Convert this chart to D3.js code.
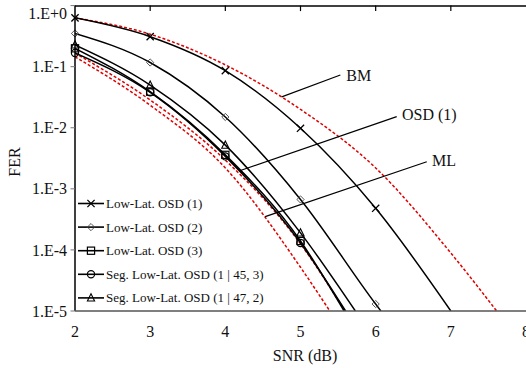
<!DOCTYPE html>
<html><head><meta charset="utf-8">
<script src="https://cdn.jsdelivr.net/npm/d3@7"></script>
<style>
body{margin:0;background:#fff;}
svg{display:block;font-family:"Liberation Serif","Times New Roman",serif;}
</style></head>
<body><svg id="c" width="526" height="368"></svg>
<script>
// ---------- data ----------
const xTicks = [2,3,4,5,6,7,8];
const yTicks = [1e0,1e-1,1e-2,1e-3,1e-4,1e-5];
const yTickLabels = ["1.E+0","1.E-1","1.E-2","1.E-3","1.E-4","1.E-5"];

const lowLat1_snr = [2,3,4,5,6,7];
const lowLat1_fer = [0.63,0.31,0.086,0.0098,4.8e-4,1.0e-5];
const lowLat2_snr = [2,3,4,5,6,6.07];
const lowLat2_fer = [0.35,0.117,0.015,6.7e-4,1.3e-5,1.0e-5];
const lowLat3_snr = [2,3,4,5,5.58];
const lowLat3_fer = [0.20,0.039,3.6e-3,1.4e-4,1.0e-5];
const seg45_snr = [2,3,4,5,5.6];
const seg45_fer = [0.168,0.038,3.4e-3,1.3e-4,1.0e-5];
const seg47_snr = [2,3,4,5,5.73];
const seg47_fer = [0.227,0.050,5.2e-3,1.9e-4,1.0e-5];

const bm_snr = [2,3,4,5,6,7,7.61];
const bm_fer = [0.63,0.34,0.107,0.020,2.2e-3,8.9e-5,1.0e-5];
const osd1_snr = [2,3,4,5,5.59];
const osd1_fer = [0.166,0.0285,2.95e-3,1.26e-4,1.0e-5];
const ml_snr = [2,3,4,5,5.39];
const ml_fer = [0.145,0.0234,2.2e-3,5.2e-5,1.0e-5];

const legendLabels = ["Low-Lat. OSD (1)","Low-Lat. OSD (2)","Low-Lat. OSD (3)",
  "Seg. Low-Lat. OSD (1 | 45, 3)","Seg. Low-Lat. OSD (1 | 47, 2)"];
const markerTypes = ["x","diamond","square","circle","triangle"];

// annotations: pointer start, pointer target, label position (data units)
const annLabels = ["BM","OSD (1)","ML"];
const annFrom = [[5.53,0.073],[6.28,0.0152],[6.68,2.78e-3]];
const annTo   = [[4.75,0.032],[4.2,2.0e-3],[4.53,3.5e-4]];
const annText = [[5.61,0.073],[6.35,0.0168],[6.75,2.97e-3]];

// ---------- drawing ----------
const svg = d3.select("#c");
const L=75, R=526, T=5.6, B=311;
const x = d3.scaleLinear().domain([2,8]).range([L,R]);
const y = d3.scaleLog().domain([1e-5,1]).range([B,T]);

svg.append("defs").append("clipPath").attr("id","clip")
  .append("rect").attr("x",L).attr("y",T).attr("width",R-L).attr("height",B-T);

const line = d3.line().x(d=>x(d[0])).y(d=>y(d[1])).curve(d3.curveMonotoneX);
const zip=(a,b)=>a.map((v,i)=>[v,b[i]]);

const blackSeries = [
  zip(lowLat1_snr,lowLat1_fer), zip(lowLat2_snr,lowLat2_fer), zip(lowLat3_snr,lowLat3_fer),
  zip(seg45_snr,seg45_fer), zip(seg47_snr,seg47_fer)];
const redSeries = [zip(bm_snr,bm_fer), zip(osd1_snr,osd1_fer), zip(ml_snr,ml_fer)];

const g = svg.append("g").attr("clip-path","url(#clip)");
redSeries.forEach(s=>{
  g.append("path").attr("d",line(s)).attr("fill","none")
   .attr("stroke","#e00000").attr("stroke-width",1.5).attr("stroke-dasharray","3,2");
});
blackSeries.forEach(s=>{
  g.append("path").attr("d",line(s)).attr("fill","none")
   .attr("stroke","#000").attr("stroke-width",1.5);
});

function marker(sel,type,cx,cy){
  const s=3.6;
  if(type==="x"){
    sel.append("path").attr("d",`M${cx-s},${cy-s}L${cx+s},${cy+s}M${cx-s},${cy+s}L${cx+s},${cy-s}`)
      .attr("stroke","#000").attr("stroke-width",1.3).attr("fill","none");
  } else if(type==="diamond"){
    sel.append("path").attr("d",`M${cx},${cy-s}L${cx+s},${cy}L${cx},${cy+s}L${cx-s},${cy}Z`)
      .attr("stroke","#444").attr("stroke-width",0.9).attr("fill","none");
  } else if(type==="square"){
    sel.append("rect").attr("x",cx-s).attr("y",cy-s).attr("width",2*s).attr("height",2*s)
      .attr("stroke","#000").attr("stroke-width",1.2).attr("fill","none");
  } else if(type==="circle"){
    sel.append("circle").attr("cx",cx).attr("cy",cy).attr("r",s)
      .attr("stroke","#000").attr("stroke-width",1.2).attr("fill","none");
  } else {
    sel.append("path").attr("d",`M${cx},${cy-s-0.5}L${cx+s},${cy+s-0.5}L${cx-s},${cy+s-0.5}Z`)
      .attr("stroke","#000").attr("stroke-width",1.1).attr("fill","none");
  }
}
const gm = svg.append("g");
blackSeries.forEach((s,i)=>{
  s.filter(d=>Number.isInteger(d[0]) && d[1]>1.05e-5)
   .forEach(d=>marker(gm,markerTypes[i],x(d[0]),y(d[1])));
});

// axes
const ax = svg.append("g");
ax.append("line").attr("x1",L).attr("x2",L).attr("y1",T).attr("y2",B).attr("stroke","#000").attr("stroke-width",1.5);
ax.append("line").attr("x1",L).attr("x2",R).attr("y1",T+0.5).attr("y2",T+0.5).attr("stroke","#000").attr("stroke-width",1.5);
ax.append("line").attr("x1",L).attr("x2",R).attr("y1",B).attr("y2",B).attr("stroke","#555").attr("stroke-width",1.3);
xTicks.filter(v=>v>2&&v<8).forEach(v=>{
  ax.append("line").attr("x1",x(v)).attr("x2",x(v)).attr("y1",T).attr("y2",T+5.5).attr("stroke","#000").attr("stroke-width",1.2);
});
xTicks.forEach(v=>{
  ax.append("text").attr("x",x(v)).attr("y",B+26).attr("text-anchor","middle")
    .attr("font-size",16).attr("fill","#111").text(v);
});
yTicks.forEach((v,i)=>{
  ax.append("line").attr("x1",L-4.5).attr("x2",L).attr("y1",y(v)).attr("y2",y(v)).attr("stroke","#777").attr("stroke-width",1);
  ax.append("text").attr("x",L-8).attr("y",y(v)+(i===0?8:0)).attr("dy","0.35em").attr("text-anchor","end")
    .attr("font-size",16).attr("fill","#111").text(yTickLabels[i]);
});
svg.append("text").attr("x",305).attr("y",361).attr("text-anchor","middle")
  .attr("font-size",16).attr("fill","#111").text("SNR (dB)");
svg.append("text").attr("transform","translate(20,162) rotate(-90)").attr("text-anchor","middle")
  .attr("font-size",16).attr("fill","#111").text("FER");

// annotations
annLabels.forEach((t,i)=>{
  svg.append("line").attr("x1",x(annFrom[i][0])).attr("y1",y(annFrom[i][1]))
    .attr("x2",x(annTo[i][0])).attr("y2",y(annTo[i][1])).attr("stroke","#000").attr("stroke-width",1.2);
  svg.append("text").attr("x",x(annText[i][0])).attr("y",y(annText[i][1])).attr("dy","0.35em")
    .attr("font-size",16).attr("fill","#111").text(t);
});

// legend
const lg = svg.append("g");
legendLabels.forEach((t,i)=>{
  const ly = 203.5 + i*23.6;
  lg.append("line").attr("x1",78).attr("x2",104).attr("y1",ly).attr("y2",ly).attr("stroke","#000").attr("stroke-width",1.6);
  marker(lg,markerTypes[i],91,ly);
  lg.append("text").attr("x",106).attr("y",ly).attr("dy","0.35em").attr("font-size",13).attr("fill","#111").text(t);
});
</script></body></html>
